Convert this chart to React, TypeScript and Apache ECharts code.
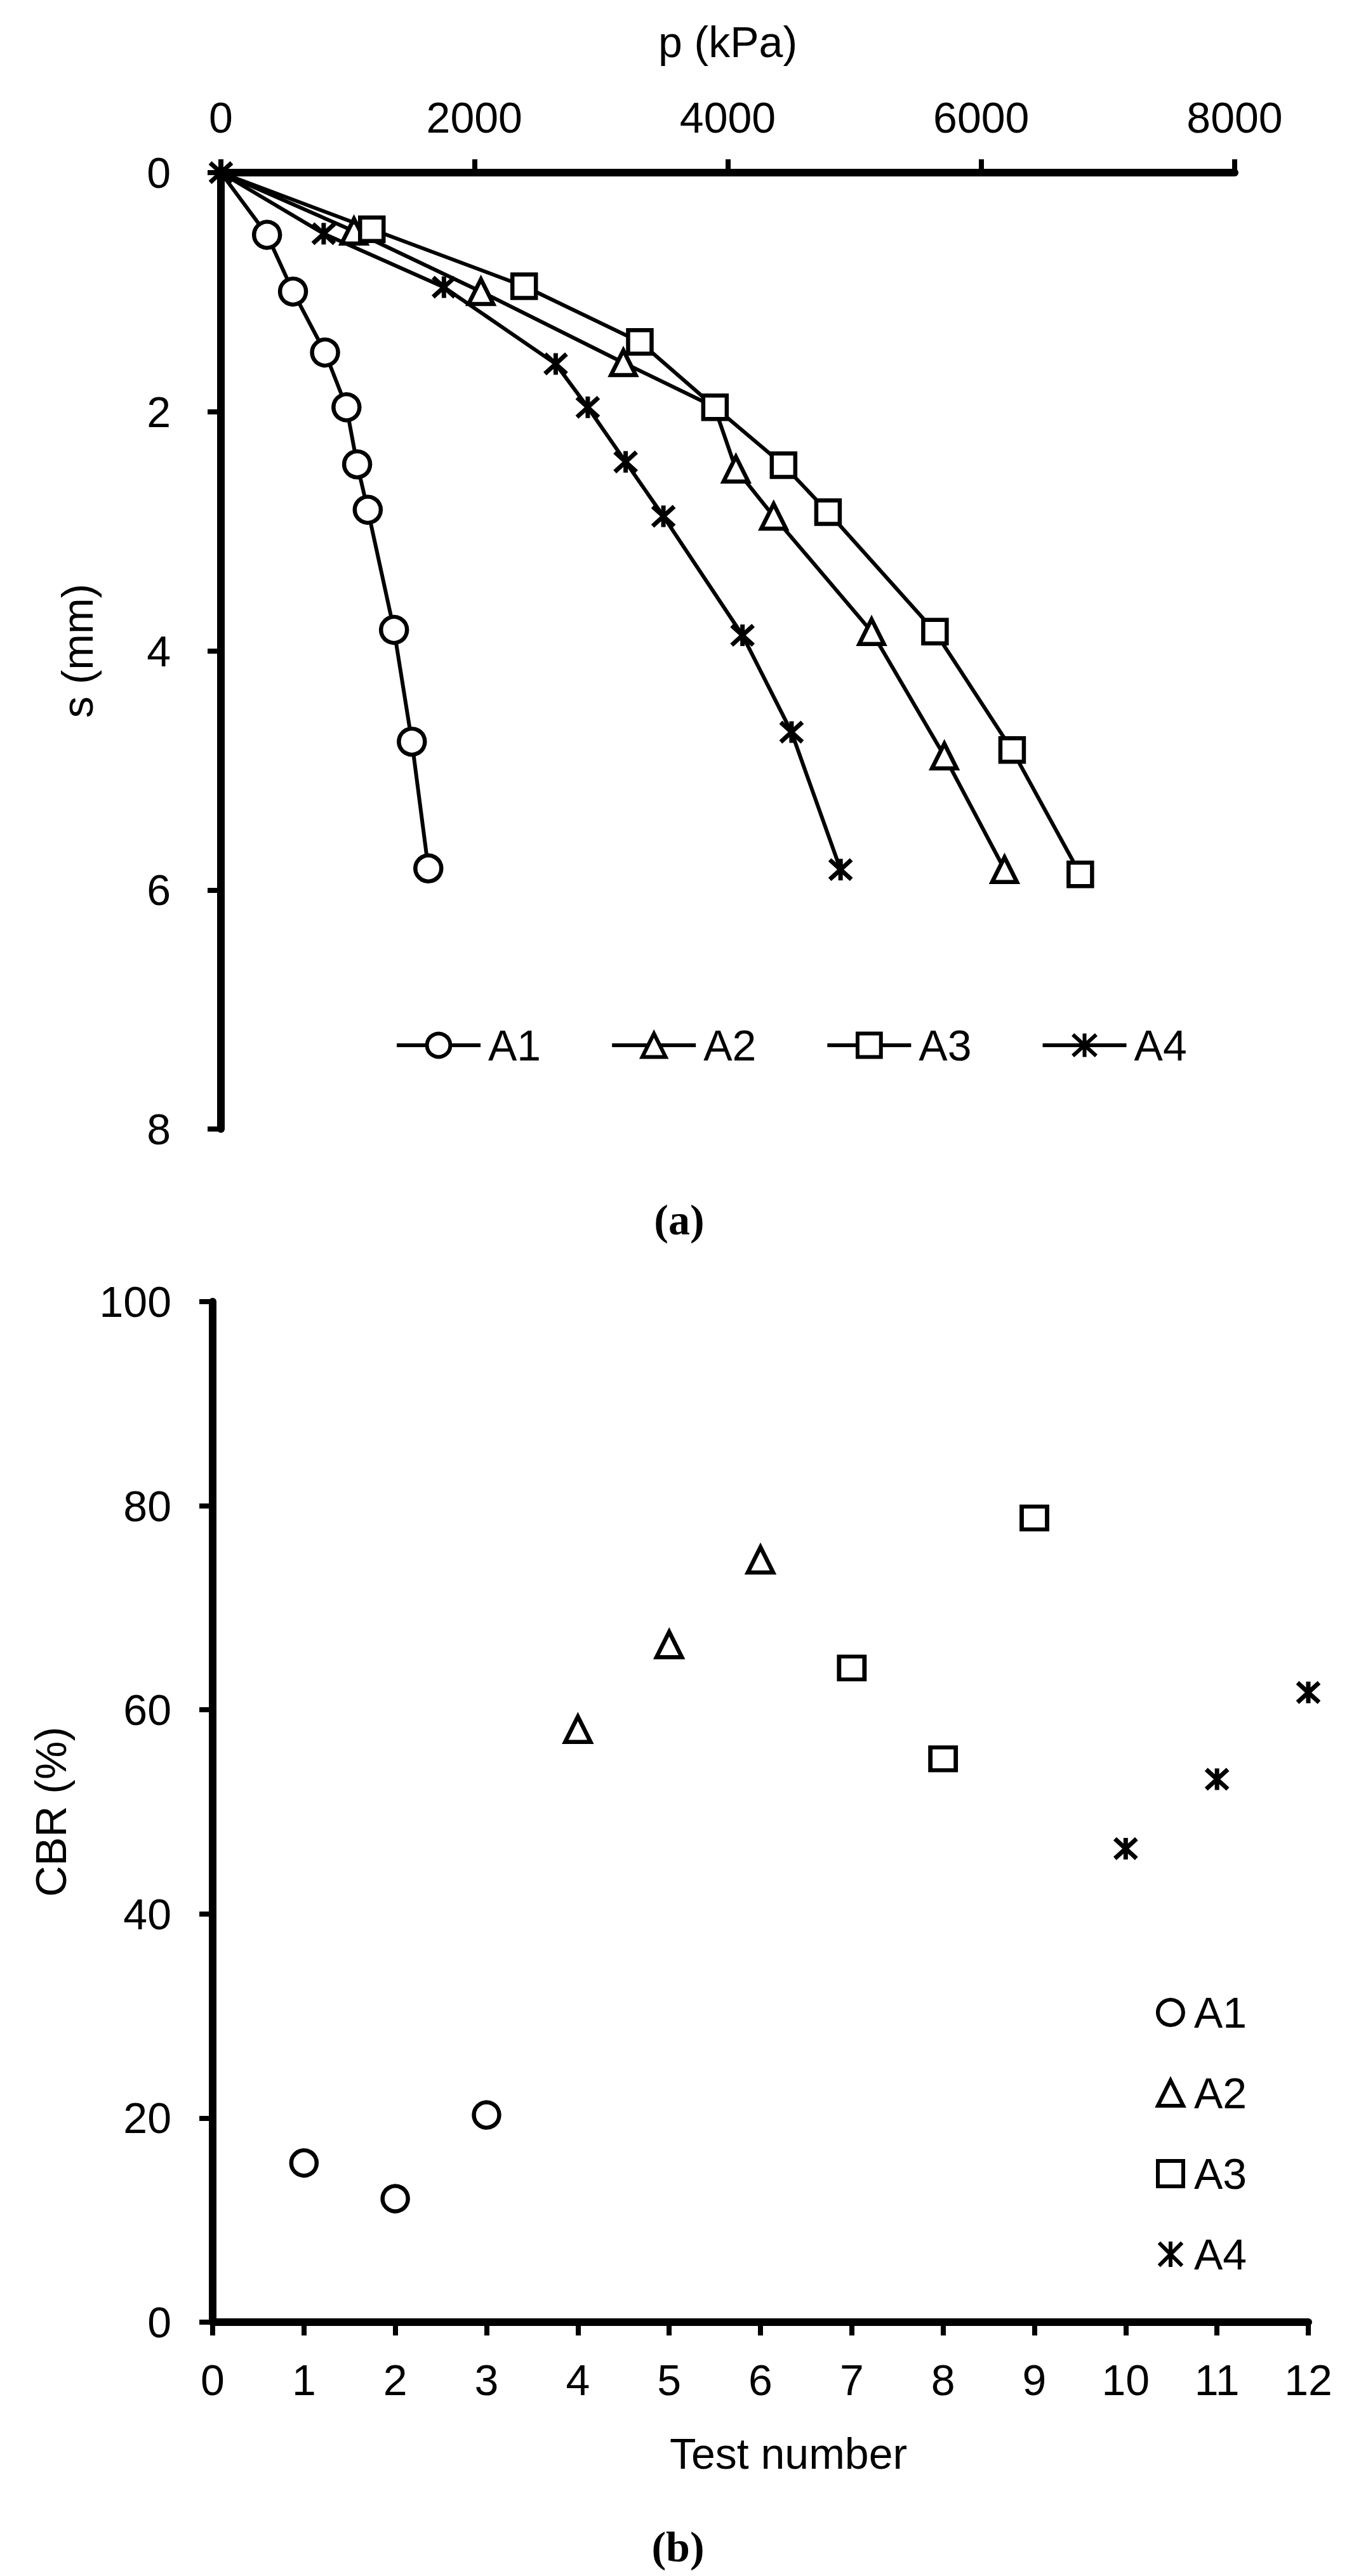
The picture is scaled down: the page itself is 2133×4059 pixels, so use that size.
import React, { useEffect, useRef } from 'react';
import * as echarts from 'echarts';

// ---- Panel (a): load p (kPa) vs settlement s (mm) ----
const seriesNames = ['A1', 'A2', 'A3', 'A4'];
const a1P = [0, 364, 569, 822, 991, 1075, 1159, 1366, 1507, 1637];
const a1S = [0, 0.52, 0.995, 1.505, 1.963, 2.44, 2.82, 3.825, 4.76, 5.82];
const a2P = [0, 1050, 2052, 3176, 3895, 4064, 4362, 5135, 5709, 6184];
const a2S = [0, 0.49, 0.995, 1.59, 1.96, 2.48, 2.875, 3.84, 4.88, 5.83];
const a3P = [0, 1191, 2393, 3306, 3899, 4440, 4791, 5635, 6244, 6782];
const a3S = [0, 0.474, 0.95, 1.416, 1.963, 2.447, 2.84, 3.84, 4.83, 5.87];
const a4P = [0, 811, 1760, 2642, 2895, 3194, 3492, 4116, 4503, 4890];
const a4S = [0, 0.511, 0.958, 1.6, 1.963, 2.42, 2.875, 3.87, 4.68, 5.83];

// ---- Panel (b): CBR (%) per test number ----
const a1Tests = [1, 2, 3];
const a1Cbr = [15.6, 12.1, 20.3];
const a2Tests = [4, 5, 6];
const a2Cbr = [58.1, 66.4, 74.7];
const a3Tests = [7, 8, 9];
const a3Cbr = [64.1, 55.2, 78.8];
const a4Tests = [10, 11, 12];
const a4Cbr = [46.4, 53.2, 61.7];

const F = '"Liberation Sans", Arial, sans-serif';
const SERIF = '"Liberation Serif", "Times New Roman", serif';
const STAR = 'path://M0 0L20 20M20 0L0 20M10 -1L10 21';

const symbols = ['circle', 'triangle', 'rect', STAR];
const symbolSizesA = [41, 39, 37, 34];
const symbolSizesB = [40, 40, [40, 36], 34];
const borderWidths = [6.5, 6.5, 6.5, 7];

const axisLine = { show: true, onZero: false, lineStyle: { color: '#000', width: 12 } };
const axisTick = { show: true, inside: false, length: 21, lineStyle: { color: '#000', width: 8 } };
const labelStyle = { color: '#000', fontSize: 68, fontFamily: F, formatter: (v: number) => String(v) };
const nameStyle = { color: '#000', fontSize: 68, fontFamily: F };

function pairs(xs: number[], ys: number[]) {
  return xs.map((x, i) => [x, ys[i]]);
}

function buildOption() {
  const pList = [a1P, a2P, a3P, a4P];
  const sList = [a1S, a2S, a3S, a4S];
  const tList = [a1Tests, a2Tests, a3Tests, a4Tests];
  const cList = [a1Cbr, a2Cbr, a3Cbr, a4Cbr];

  const lineSeries = seriesNames.map((name, k) => {
    const data: any[] = pairs(pList[k], sList[k]).map((v, i) => {
      // origin marker only shows the A4 star; A2's 5th point sits under A3's square
      if ((i === 0 && k < 3) || (k === 1 && i === 4)) return { value: v, symbol: 'none' };
      return v;
    });
    return {
      type: 'line',
      name,
      xAxisIndex: 0,
      yAxisIndex: 0,
      data,
      symbol: symbols[k],
      symbolSize: symbolSizesA[k],
      showAllSymbol: true,
      lineStyle: { color: '#000', width: 6 },
      itemStyle: {
        color: k === 3 ? '#000' : '#fff',
        borderColor: '#000',
        borderWidth: borderWidths[k],
      },
      emphasis: { disabled: true },
      z: 2 + k,
    };
  });

  const scatterSeries = seriesNames.map((name, k) => ({
    type: 'scatter',
    name: name + ' ',
    xAxisIndex: 1,
    yAxisIndex: 1,
    data: pairs(tList[k], cList[k]),
    symbol: symbols[k],
    symbolSize: symbolSizesB[k],
    itemStyle: {
      color: k === 3 ? '#000' : '#fff',
      borderColor: '#000',
      borderWidth: borderWidths[k],
      opacity: 1,
    },
    emphasis: { disabled: true },
    z: 2 + k,
  }));

  const rich = {
    p: { fontFamily: SERIF, fontSize: 68, color: '#000' },
    b: { fontFamily: SERIF, fontSize: 68, fontWeight: 'bold', color: '#000' },
  };

  return {
    animation: false,
    backgroundColor: '#fff',
    title: [
      {
        text: '{p|(}{b|a}{p|)}',
        left: 1070,
        top: 1888,
        textAlign: 'center',
        padding: 0,
        textStyle: { rich },
      },
      {
        text: '{p|(}{b|b}{p|)}',
        left: 1068,
        top: 3979,
        textAlign: 'center',
        padding: 0,
        textStyle: { rich },
      },
    ],
    grid: [
      { left: 348, top: 272, width: 1597, height: 1507, containLabel: false },
      { left: 335, top: 2051, width: 1726, height: 1608, containLabel: false },
    ],
    xAxis: [
      {
        gridIndex: 0,
        type: 'value',
        position: 'top',
        min: 0,
        max: 8000,
        interval: 2000,
        name: 'p (kPa)',
        nameLocation: 'middle',
        nameGap: 172,
        nameTextStyle: nameStyle,
        axisLine,
        axisTick,
        axisLabel: { ...labelStyle, margin: 53 },
        splitLine: { show: false },
      },
      {
        gridIndex: 1,
        type: 'value',
        position: 'bottom',
        min: 0,
        max: 12,
        interval: 1,
        name: 'Test number',
        nameLocation: 'middle',
        nameGap: 173,
        nameTextStyle: { ...nameStyle, padding: [0, 0, 0, 88] },
        axisLine,
        axisTick,
        axisLabel: { ...labelStyle, margin: 57 },
        splitLine: { show: false },
      },
    ],
    yAxis: [
      {
        gridIndex: 0,
        type: 'value',
        inverse: true,
        min: 0,
        max: 8,
        interval: 2,
        name: 's (mm)',
        nameLocation: 'middle',
        nameGap: 192,
        nameTextStyle: nameStyle,
        axisLine,
        axisTick,
        axisLabel: { ...labelStyle, margin: 79 },
        splitLine: { show: false },
      },
      {
        gridIndex: 1,
        type: 'value',
        min: 0,
        max: 100,
        interval: 20,
        name: 'CBR (%)',
        nameLocation: 'middle',
        nameGap: 221,
        nameTextStyle: nameStyle,
        axisLine,
        axisTick,
        axisLabel: { ...labelStyle, margin: 65 },
        splitLine: { show: false },
      },
    ],
    legend: [
      {
        data: seriesNames,
        orient: 'horizontal',
        left: 617,
        top: 1608,
        itemWidth: 132,
        itemHeight: 46,
        itemGap: 109,
        selectedMode: false,
        textStyle: { color: '#000', fontSize: 68, fontFamily: F, padding: [0, 0, 0, 7] },
        lineStyle: { width: 6, color: '#000' },
        itemStyle: { borderWidth: 6, borderColor: '#000' },
      },
      {
        data: seriesNames.map((n) => n + ' '),
        formatter: (n: string) => n.trim(),
        orient: 'vertical',
        left: 1816,
        top: 3132,
        itemWidth: 40,
        itemHeight: 40,
        itemGap: 59,
        selectedMode: false,
        textStyle: { color: '#000', fontSize: 68, fontFamily: F, padding: [0, 0, 0, 12], lineHeight: 68 },
        itemStyle: { borderWidth: 6, borderColor: '#000' },
      },
    ],
    series: [...lineSeries, ...scatterSeries],
  };
}

export default function App() {
  const ref = useRef<HTMLDivElement>(null);
  useEffect(() => {
    document.body.style.margin = '0';
    const chart = echarts.init(ref.current as HTMLDivElement, null, { renderer: 'svg' });
    chart.setOption(buildOption() as any);
    return () => chart.dispose();
  }, []);
  return (
    <div
      ref={ref}
      style={{ position: 'absolute', left: 0, top: 0, width: 2133, height: 4059, background: '#fff' }}
    />
  );
}
